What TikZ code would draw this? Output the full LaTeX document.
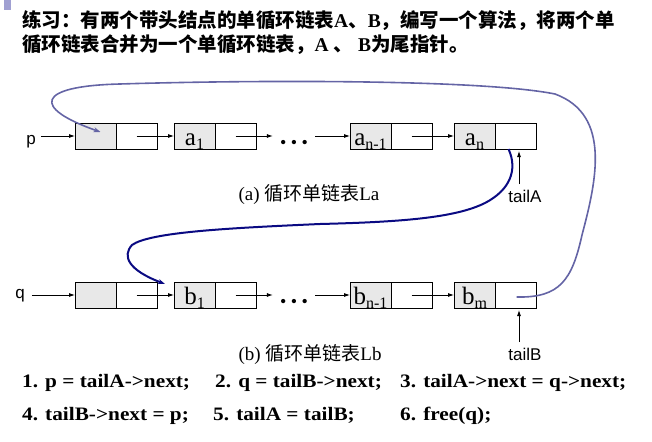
\documentclass[tikz,border=0pt]{standalone}
\usepackage{fontspec}
\setmainfont{Liberation Serif}
\newfontfamily\cjk{Noto Sans CJK SC}
\newfontfamily\arial{Liberation Sans}
\usetikzlibrary{positioning,arrows.meta}
\definecolor{fieldgray}{RGB}{232,232,232}
\definecolor{loopblue}{RGB}{100,100,165}
\definecolor{navyblue}{RGB}{10,10,130}
\definecolor{cornermark}{RGB}{160,160,210}
\newcommand{\fld}[2]{#1\raisebox{-4pt}[0pt][0pt]{\fontsize{16}{16}\selectfont #2}}
\newcommand{\codeseg}[1]{\scalebox{1.12}[1]{\fontsize{19}{19}\selectfont\bfseries #1}}
\newcommand{\tridots}{\raisebox{-12pt}[0pt][0pt]{\textbullet\hspace{4.5pt}\textbullet\hspace{4.5pt}\textbullet}}

\begin{document}
\begin{tikzpicture}[x=1pt,y=-1pt,
  datafld/.style={draw,fill=fieldgray,minimum width=41pt,minimum height=26pt,
    inner sep=0pt,outer sep=0pt,line width=0.8pt,text height=18pt,text depth=0pt,
    font=\fontsize{25}{25}\selectfont},
  nextfld/.style={draw,fill=white,minimum width=41pt,minimum height=26pt,
    inner sep=0pt,outer sep=0pt,line width=0.8pt},
  dotsfld/.style={minimum width=42pt,inner sep=0pt,font=\fontsize{18}{18}\selectfont},
  link/.style={-{Latex[length=6pt,width=4pt]},line width=0.8pt},
  sanslbl/.style={font=\arial\fontsize{17}{17}\selectfont},
  caplbl/.style={anchor=west,font=\fontsize{19}{19}\selectfont},
  codelbl/.style={anchor=base west,inner sep=0pt}]
\useasboundingbox (0,0) rectangle (652,441);
\fill[cornermark] (4,0) rectangle (11,10);

% title
\node[anchor=base west,inner sep=0pt,font=\fontsize{19.5}{19.5}\selectfont\bfseries] (title1) at (22,28)
  {\cjk 练习：有两个带头结点的单循环链表\rmfamily A\cjk 、\rmfamily B\cjk ，编写一个算法，将两个单};
\node[anchor=base west,inner sep=0pt,font=\fontsize{19.5}{19.5}\selectfont\bfseries] (title2) at (22,52)
  {\cjk 循环链表合并为一个单循环链表，\rmfamily A \cjk 、\rmfamily\ B\cjk 为尾指针。};

% list La
\node[datafld] (ha) at (95.5,136) {};
\node[nextfld,right=0pt of ha] (haN) {};
\node[datafld] (a1) at (194.5,136) {\fld{a}{1}};
\node[nextfld,right=0pt of a1] (a1N) {};
\node[dotsfld] (dotsA) at (294,136) {\tridots};
\node[datafld] (an1) at (370.5,136) {\fld{a}{n-1}};
\node[nextfld,right=0pt of an1] (an1N) {};
\node[datafld] (an) at (474.5,136) {\fld{a}{n}};
\node[nextfld,right=0pt of an] (anN) {};

\node[sanslbl,anchor=mid,inner sep=1pt] (p) at (31,142) {p};
\node[sanslbl] (tailA) at (525,196) {tailA};
\node[caplbl] (capA) at (235,195) {(a) {\cjk 循环单链表}La};

\draw[link] ([xshift=4pt]p.mid east |- ha.west) -- (ha.west);
\draw[link] (haN.center) -- (a1.west);
\draw[link] (a1N.center) -- (dotsA.west);
\draw[link] (dotsA.east) -- (an1.west);
\draw[link] (an1N.center) -- (an.west);
\draw[link,shorten <=2pt,shorten >=2pt] (tailA.north -| 519,0) -- (anN.south -| 519,0);

% list Lb
\node[datafld] (hb) at (95.5,295) {};
\node[nextfld,right=0pt of hb] (hbN) {};
\node[datafld] (b1) at (194.5,295) {\fld{b}{1}};
\node[nextfld,right=0pt of b1] (b1N) {};
\node[dotsfld] (dotsB) at (294,295) {\tridots};
\node[datafld] (bn1) at (370.5,295) {\fld{b}{n-1}};
\node[nextfld,right=0pt of bn1] (bn1N) {};
\node[datafld] (bm) at (474.5,295) {\fld{b}{m}};
\node[nextfld,right=0pt of bm] (bmN) {};

\node[sanslbl,anchor=mid,inner sep=1pt] (q) at (20,296) {q};
\node[sanslbl] (tailB) at (525,354) {tailB};
\node[caplbl] (capB) at (235,355) {(b) {\cjk 循环单链表}Lb};

\draw[link] ([xshift=6pt]q.mid east |- hb.west) -- (hb.west);
\draw[link] (hbN.center) -- (b1.west);
\draw[link] (b1N.center) -- (dotsB.west);
\draw[link] (dotsB.east) -- (bn1.west);
\draw[link] (bn1N.center) -- (bm.west);
\draw[link,shorten <=2pt,shorten >=2pt] (tailB.north -| 519,0) -- (bmN.south -| 519,0);

% merging pointers
\draw[loopblue,line width=1.6pt,-{Stealth[length=7pt,width=5pt]}]
  ([xshift=1pt,yshift=-2pt]bmN.center) .. controls (560,298) and (572,280) .. (582,235)
  .. controls (596,182) and (612,115) .. (555,94)
  .. controls (480,79) and (250,80) .. (120,84)
  .. controls (35,86) and (32,108) .. ([xshift=5pt,yshift=4pt]ha.center);
\draw[navyblue,line width=2pt,-{Stealth[length=7pt,width=5pt]}]
  ([xshift=-7pt]anN.south) .. controls (518,170) and (510,190) .. (485,203)
  .. controls (455,218) and (400,222) .. (320,224)
  .. controls (230,228) and (150,232) .. (132,245)
  .. controls (122,256) and (128,270) .. ([xshift=-9pt,yshift=-2pt]b1.north west);

% steps
\node[codelbl] (step1) at (22,387) {\codeseg{1. p = tailA->next;}};
\node[codelbl] (step2) at (215,387) {\codeseg{2. q = tailB->next;}};
\node[codelbl] (step3) at (400,387) {\codeseg{3. tailA->next = q->next;}};
\node[codelbl] (step4) at (22,420) {\codeseg{4. tailB->next = p;}};
\node[codelbl] (step5) at (213,420) {\codeseg{5. tailA = tailB;}};
\node[codelbl] (step6) at (400,420) {\codeseg{6. free(q);}};
\end{tikzpicture}
\end{document}
